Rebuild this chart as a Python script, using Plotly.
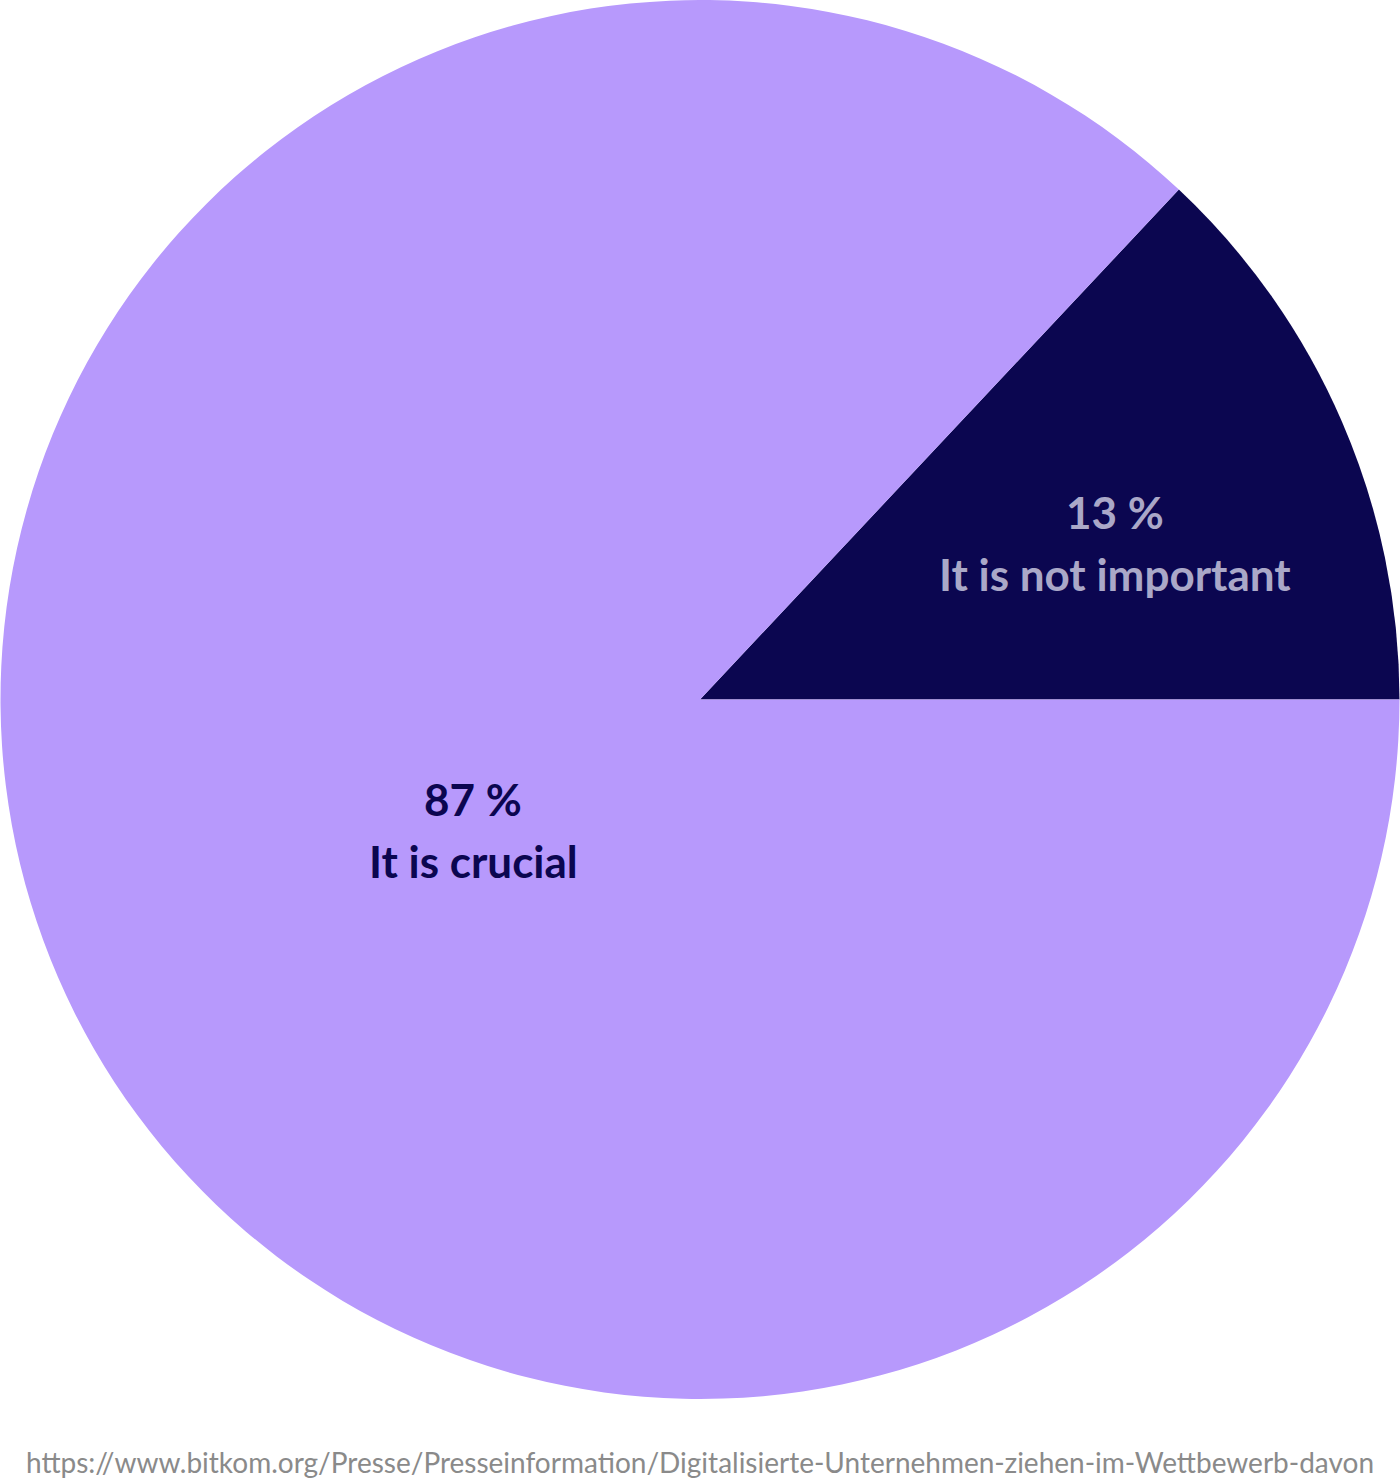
import math

import plotly.graph_objects as go

labels = ["It is not important", "It is crucial"]
values = [13, 87]
pct_text = ["13 %", "87 %"]

colors = ["#0b0650", "#b799fc"]
text_colors = ["#aaa8c8", "#0b0650"]

# where the labels sit: fraction of radius, and small angle nudge (deg)
label_radius = [0.634, 0.374]
label_nudge = [-2.7, 6.5]

source = "https://www.bitkom.org/Presse/Presseinformation/Digitalisierte-Unternehmen-ziehen-im-Wettbewerb-davon"

W, H, B = 1400, 1479, 80

fig = go.Figure()

fig.add_trace(
    go.Pie(labels=labels,
           values=values,
           textinfo="none",
           marker=dict(colors=colors, line=dict(width=0)),
           sort=False,
           direction="counterclockwise",
           rotation=90 - 360 * values[0] / sum(values),
           hoverinfo="label+percent",
           domain=dict(x=[0, 1], y=[0, 1]))
)

# labels, placed at the middle angle of each slice
total = sum(values)
start = 0.0
plot_h = H - B
r_px = min(W, plot_h) / 2
for i, v in enumerate(values):
    mid = start + 360 * v / total / 2 + label_nudge[i]
    start += 360 * v / total
    a = math.radians(mid)
    x = 0.5 + r_px * label_radius[i] * math.cos(a) / W
    y = 0.5 + r_px * label_radius[i] * math.sin(a) / plot_h
    font = dict(family="Lato", size=44, color=text_colors[i], weight="bold")
    fig.add_annotation(text=pct_text[i], x=x, y=y, xref="paper", yref="paper",
                       xanchor="center", yanchor="middle",
                       yshift=31, showarrow=False, font=font)
    fig.add_annotation(text=labels[i], x=x, y=y, xref="paper", yref="paper",
                       xanchor="center", yanchor="middle",
                       yshift=-31, showarrow=False, font=font)

fig.add_annotation(text=source,
                   x=0.5, y=0, xref="paper", yref="paper",
                   xanchor="center", yanchor="top", yshift=-44,
                   showarrow=False,
                   font=dict(family="Lato", size=28, color="#8a8a8a"))

fig.update_layout(
    width=W, height=H,
    showlegend=False,
    paper_bgcolor="white",
    margin=dict(l=0, r=0, t=0, b=B),
)

fig.write_html("out.html", config={"displayModeBar": False},
               post_script="document.body.style.margin='0';")
